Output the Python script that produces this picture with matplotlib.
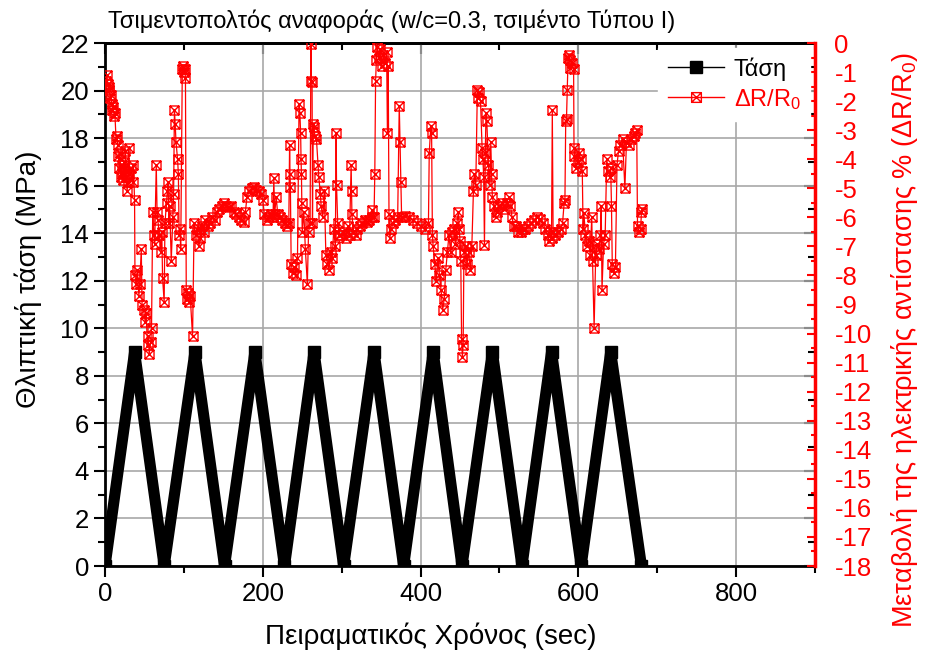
import numpy as np
import matplotlib
matplotlib.use('Agg')
import matplotlib.pyplot as plt
from matplotlib.path import Path
from matplotlib.lines import Line2D
from matplotlib.ticker import MultipleLocator, NullFormatter

# stress cycles (MPa): turning points of the loading / unloading
stress_t = [0, 37.5, 75, 114, 151.5, 190, 227.5, 265, 302.5, 341, 378.5,
            416, 452.5, 491, 528.5, 566, 603.5, 641, 680]
stress_mpa = [0, 9, 0, 9, 0, 9, 0, 9, 0, 9, 0, 9, 0, 9, 0, 9, 0, 9, 0]

# resistance change dR/R0 (%), read per loading cycle
c1_t = [1.5, 2.5, 3.5, 4.5, 5.5, 6.5, 7.5, 8.5, 9.5, 10.5, 11.5, 12.5, 14, 15, 16, 17,
        18, 19, 20, 21, 22, 23, 24, 25, 26, 27, 28, 29, 30, 31, 33, 35, 36, 37.5]
c1_r = [-1.3, -1.1, -1.4, -1.6, -1.5, -1.9, -1.8, -2.1, -2.3, -2.2, -2.5, -2.4, -3.3, -3.2,
        -3.5, -3.9, -4.3, -3.8, -4.6, -4.2, -4.5, -4.7, -4.1, -4.4, -3.7, -4.6, -5.1, -4.8,
        -3.6, -4.5, -4.3, -4.8, -4.2, -5.4]
c2_t = [38, 39.5, 41, 43, 44, 46, 47, 49, 51, 52, 54, 55, 56, 58, 59, 60.5, 62, 63, 65, 66,
        67, 69, 71, 72, 73, 75, 76, 78, 79, 80, 81, 82, 84, 86, 87, 88, 89, 90, 92, 93,
        94, 95, 96, 98, 99, 100, 101, 102, 103, 104, 105, 106, 108, 111]
c2_r = [-8.0, -8.3, -7.8, -8.7, -8.3, -7.1, -9.0, -9.2, -9.6, -9.3, -10.4, -10.1, -10.7,
        -10.3, -9.8, -5.8, -6.6, -6.9, -4.2, -5.8, -6.1, -6.6, -7.2, -6.5, -8.1, -8.9, -6.2,
        -5.5, -5.1, -4.8, -6.2, -5.6, -7.5, -6.0, -5.2, -2.3, -2.8, -3.4, -4.0, -4.5, -6.6,
        -6.4, -7.1, -0.9, -0.8, -1.0, -0.9, -1.2, -8.5, -8.8, -8.6, -8.9, -8.7, -10.1]
c3_t = [113, 115, 117, 119, 121, 123, 125, 127, 130, 133, 136, 139, 142, 145, 148, 151,
        154, 157, 160, 163, 166, 170, 173, 176, 178, 180, 183, 186, 189, 192, 195, 198,
        200, 202, 205, 208, 211, 213, 214, 215, 217, 219, 222, 225, 228, 231, 233, 234,
        234.5, 235]
c3_r = [-6.2, -6.6, -6.4, -7.0, -6.7, -6.3, -6.5, -6.1, -6.3, -6.2, -6.0, -6.1, -5.8, -5.7,
        -5.6, -5.5, -5.6, -5.65, -5.6, -5.8, -5.9, -6.0, -6.1, -6.15, -5.8, -5.3, -5.1,
        -5.0, -4.95, -5.05, -5.1, -5.2, -5.4, -5.9, -6.1, -6.0, -5.9, -6.0, -4.65, -5.9,
        -5.3, -5.9, -6.0, -6.1, -6.2, -6.3, -6.2, -3.5, -4.5, -4.95]
c4_t = [236, 238, 240, 242, 244, 246, 247, 248, 248.5, 249, 249.5, 250, 252, 254, 256.5,
        258, 260, 261, 261.5, 262.5, 263, 264, 265, 266, 268, 270, 271, 273, 274, 276,
        278, 280, 282, 284, 286, 288, 290, 292, 293, 293.5, 295, 297]
c4_r = [-7.6, -7.9, -7.7, -8.0, -7.4, -2.1, -2.4, -3.1, -4.0, -4.5, -5.5, -6.5, -5.8, -7.1,
        -8.3, -6.5, -6.2, -0.05, -1.3, -1.35, -6.2, -2.8, -2.9, -3.2, -3.3, -4.2, -4.6,
        -5.2, -5.6, -6.0, -5.1, -7.3, -7.6, -7.8, -7.2, -7.4, -6.4, -7.0, -3.1, -4.9,
        -6.2, -6.6]
c5_t = [298, 302, 305, 308, 310, 312, 312.5, 313, 315, 318, 320, 323, 326, 329, 332, 335,
        338, 339, 341, 342, 343, 344, 345, 347, 349, 351, 353, 355, 357, 358, 359, 360, 361]
c5_r = [-6.6, -6.5, -6.7, -6.3, -6.6, -4.2, -5.1, -5.9, -6.5, -6.6, -6.4, -6.3, -6.2, -6.1,
        -6.15, -6.1, -6.0, -5.75, -6.0, -4.5, -1.3, -0.6, -0.15, -0.5, -0.2, -0.8, -0.4,
        -0.7, -0.3, -3.1, -0.8, -5.9, -6.7]
c6_t = [363, 365, 368, 371, 373, 374, 375, 376, 380, 385, 390, 395, 400, 405, 410, 411,
        413, 414, 415, 416, 418, 420, 422, 424, 426, 428, 430, 432, 434, 436, 438, 440,
        442, 444, 446, 448, 449, 450, 451]
c6_r = [-6.4, -6.2, -6.1, -6.0, -2.15, -3.4, -4.8, -6.0, -5.95, -6.0, -6.1, -6.2, -6.3,
        -6.4, -6.2, -3.8, -2.85, -3.1, -6.6, -7.0, -7.6, -8.2, -7.4, -8.0, -8.5, -9.2,
        -8.8, -7.8, -7.2, -6.6, -7.2, -6.5, -6.4, -6.9, -6.2, -5.8, -6.4, -6.8, -7.5]
c7_t = [452, 453, 454, 455, 457, 459, 461, 463, 465, 467, 468, 470, 472, 473, 474, 476,
        478, 479, 480, 481, 482, 483, 484, 486, 488, 489, 490, 491, 493, 495, 497, 500,
        503, 506, 509, 512, 514, 516, 518, 521, 524, 527]
c7_r = [-10.2, -10.8, -10.4, -7.2, -7.0, -7.6, -7.2, -7.8, -7.0, -5.1, -4.5, -4.9, -1.6,
        -1.9, -1.7, -2.0, -3.6, -4.0, -4.6, -6.95, -3.8, -2.4, -2.7, -4.2, -4.9, -3.4,
        -4.5, -5.3, -5.6, -6.0, -5.8, -5.6, -5.5, -5.7, -5.5, -5.3, -5.6, -6.0, -6.3,
        -6.3, -6.5, -6.5]
c8_t = [530, 533, 536, 540, 544, 548, 551, 555, 558, 561, 563, 566, 567, 568, 570, 574,
        578, 580, 582, 583, 584, 585, 586, 587, 588, 589, 590, 592, 594, 594.5, 595, 597,
        599, 601, 603, 605, 606, 607, 609, 611]
c8_r = [-6.4, -6.4, -6.3, -6.2, -6.1, -6.0, -6.05, -6.2, -6.4, -6.6, -6.8, -6.7, -2.3,
        -6.5, -6.6, -6.5, -6.4, -6.2, -5.5, -5.4, -2.7, -2.6, -1.6, -0.5, -0.4, -0.6,
        -0.85, -0.7, -0.9, -3.6, -3.9, -4.3, -4.1, -3.8, -4.0, -4.4, -6.4, -5.85, -6.6, -7.0]
c9_t = [613, 615, 617, 618, 620, 622, 624, 626, 628, 629, 630, 632, 634, 636, 638, 640,
        641, 642, 643, 645, 647, 649, 651, 653, 656, 659, 661, 664, 667, 670, 672, 674,
        675, 677, 679, 680, 681]
c9_r = [-6.8, -7.3, -6.0, -7.5, -9.8, -7.3, -6.9, -7.1, -6.6, -5.6, -8.5, -6.9, -6.6, -4.0,
        -4.4, -4.6, -4.3, -5.6, -7.6, -7.9, -7.7, -4.2, -3.7, -3.5, -3.3, -5.0, -3.4, -3.5,
        -3.3, -3.2, -3.1, -3.0, -6.3, -6.5, -6.4, -5.8, -5.7]

dr_t = c1_t + c2_t + c3_t + c4_t + c5_t + c6_t + c7_t + c8_t + c9_t
dr_r = c1_r + c2_r + c3_r + c4_r + c5_r + c6_r + c7_r + c8_r + c9_r

plt.rcParams['font.family'] = ['Liberation Sans', 'DejaVu Sans']
plt.rcParams['mathtext.fontset'] = 'custom'
plt.rcParams['mathtext.rm'] = 'Liberation Sans'
plt.rcParams['mathtext.it'] = 'Liberation Sans:italic'
plt.rcParams['axes.unicode_minus'] = False

# square with a cross in it
boxx = Path([(-1, -1), (1, -1), (1, 1), (-1, 1), (-1, -1), (-1, -1), (1, 1), (-1, 1), (1, -1)],
            [1, 2, 2, 2, 79, 1, 2, 1, 2])

fig = plt.figure(figsize=(9.25, 6.53), dpi=100)
ax = fig.add_axes([0.1135, 0.1332, 0.7676, 0.8009])

ax.plot(stress_t, stress_mpa, color='k', lw=8, marker='s', ms=8,
        solid_joinstyle='bevel', zorder=3)
ax.set_xlim(0, 900)
ax.set_ylim(0, 22)
ax.xaxis.set_major_locator(MultipleLocator(200))
ax.xaxis.set_minor_locator(MultipleLocator(100))
ax.yaxis.set_major_locator(MultipleLocator(2))
ax.yaxis.set_minor_locator(MultipleLocator(1))
ax.grid(True, which='major', color='#a8a8a8', lw=1.2)
ax.set_axisbelow(True)
ax.tick_params(which='major', direction='out', length=8, width=1.5, labelsize=18.5)
ax.tick_params(which='minor', direction='out', length=5, width=1.5)
for s in ax.spines.values():
    s.set_linewidth(2)

# mirrored ticks pointing inwards on top and right
secx = ax.secondary_xaxis('top')
secx.xaxis.set_major_locator(MultipleLocator(200))
secx.xaxis.set_minor_locator(MultipleLocator(100))
secx.xaxis.set_major_formatter(NullFormatter())
secx.tick_params(which='major', direction='in', length=8, width=1.5)
secx.tick_params(which='minor', direction='in', length=5, width=1.5)
secx.spines['top'].set_linewidth(2)
secy = ax.secondary_yaxis('right')
secy.yaxis.set_major_locator(MultipleLocator(2))
secy.yaxis.set_minor_locator(MultipleLocator(1))
secy.yaxis.set_major_formatter(NullFormatter())
secy.tick_params(which='major', direction='in', length=8, width=1.5)
secy.tick_params(which='minor', direction='in', length=5, width=1.5)

ax2 = ax.twinx()
ax2.plot(dr_t, dr_r, color='red', lw=0.9, marker=boxx, ms=6.5, mfc='none',
         mec='red', mew=1.0, zorder=4)
ax2.set_ylim(-18, 0)
ax2.yaxis.set_major_locator(MultipleLocator(1))
ax2.yaxis.set_minor_locator(MultipleLocator(0.5))
ax2.tick_params(which='major', direction='in', length=6, width=1.5, colors='red',
                labelsize=18.5, pad=14)
ax2.tick_params(which='minor', direction='in', length=3, width=1.5, colors='red')
for side in ['left', 'top', 'bottom']:
    ax2.spines[side].set_visible(False)
ax2.spines['right'].set_color('red')
ax2.spines['right'].set_linewidth(2.5)

h1 = Line2D([], [], color='k', lw=1.0, marker='s', ms=8)
h2 = Line2D([], [], color='red', lw=1.0, marker=boxx, ms=7, mfc='none', mew=1.0)
leg = ax2.legend([h1, h2], ['Τάση', 'ΔR/R$_0$'], loc='upper right', fontsize=17,
                 frameon=True, framealpha=1, fancybox=False, edgecolor='white',
                 handlelength=2.4, handletextpad=0.4, labelspacing=0.25,
                 borderaxespad=0.2, labelcolor=['black', 'red'])

fig.text(0.117, 0.968, 'Τσιμεντοπολτός αναφοράς (w/c=0.3, τσιμέντο Τύπου Ι)',
         fontsize=17, va='center', ha='left')
fig.text(0.031, 0.573, 'Θλιπτική τάση (MPa)', fontsize=20, rotation=90,
         va='center', ha='center')
fig.text(0.466, 0.025, 'Πειραματικός Χρόνος (sec)', fontsize=20,
         va='center', ha='center')
fig.text(0.978, 0.479, 'Μεταβολή της ηλεκτρικής αντίστασης % (ΔR/R$_0$)', fontsize=19.5,
         rotation=90, va='center', ha='center', color='red')

fig.savefig('out.png', dpi=100)
